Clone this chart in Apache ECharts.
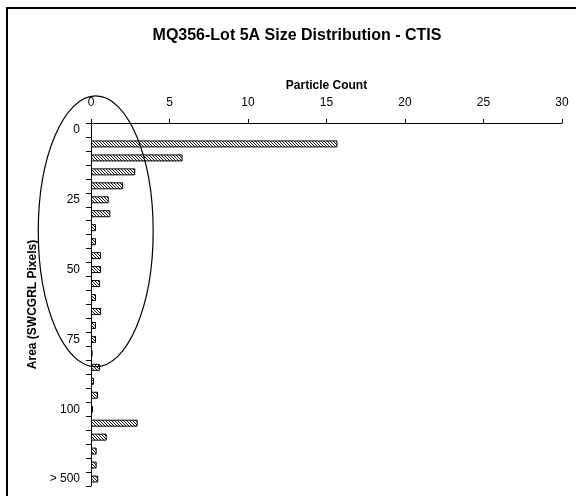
<!DOCTYPE html>
<html>
<head>
<meta charset="utf-8">
<script src="https://cdn.jsdelivr.net/npm/echarts@6/dist/echarts.min.js"></script>
<style>
html, body { margin: 0; padding: 0; background: #fff; }
#main { width: 576px; height: 496px; }
</style>
</head>
<body>
<div id="main"></div>
<script>
// 面积分档 (SWCGRL Pixels)
var areaBins = ['0', '5', '10', '15', '20', '25', '30', '35', '40', '45', '50',
	'55', '60', '65', '70', '75', '80', '85', '90', '95', '100',
	'200', '300', '400', '500', '> 500'];
// 颗粒数
var particleCount = [null, 15.7, 5.83, 2.82, 2.05, 1.13, 1.23, 0.32, 0.32, 0.64, 0.64,
	0.57, 0.32, 0.64, 0.32, 0.32, 0.1, 0.57, 0.19, 0.45, 0.13,
	2.97, 1.0, 0.36, 0.36, 0.46];
var countTicks = [0, 30, 5]; // min, max, interval
// 圈出的区域 (count, bin index, half width, half height)
var circled = [0.3, 7.26, 3.66, 9.7];

var font = 'Arial, "Liberation Sans", sans-serif';

// 斜线填充
var hatch = document.createElement('canvas');
hatch.width = 3;
hatch.height = 3;
var hc = hatch.getContext('2d');
hc.fillStyle = '#fff';
hc.fillRect(0, 0, 3, 3);
hc.strokeStyle = '#1a1a1a';
hc.lineWidth = 1;
hc.beginPath();
hc.moveTo(-1, -1); hc.lineTo(4, 4);
hc.moveTo(-1, 2); hc.lineTo(1, 4);
hc.moveTo(2, -1); hc.lineTo(4, 1);
hc.stroke();

var chart = echarts.init(document.getElementById('main'));
chart.setOption({
	backgroundColor: '#fff',
	animation: false,
	title: {
		text: 'MQ356-Lot 5A Size Distribution - CTIS',
		left: 292,
		top: 23,
		textAlign: 'center',
		textStyle: {
			fontFamily: font,
			fontSize: 16,
			fontWeight: 'bold',
			color: '#000'
		}
	},
	grid: {
		left: 91,
		right: 14,
		top: 123,
		bottom: 10
	},
	xAxis: {
		type: 'value',
		position: 'top',
		min: countTicks[0],
		max: countTicks[1],
		interval: countTicks[2],
		name: 'Particle Count',
		nameLocation: 'middle',
		nameGap: 30,
		nameTextStyle: {
			fontFamily: font,
			fontSize: 12,
			fontWeight: 'bold',
			color: '#000'
		},
		axisLine: {
			show: true,
			lineStyle: { color: '#000', width: 1 }
		},
		axisTick: {
			show: true,
			length: 4,
			lineStyle: { color: '#000' }
		},
		axisLabel: {
			margin: 14,
			fontFamily: font,
			fontSize: 12,
			color: '#000'
		},
		splitLine: { show: false }
	},
	yAxis: {
		type: 'category',
		inverse: true,
		data: areaBins,
		name: 'Area (SWCGRL Pixels)',
		nameLocation: 'middle',
		nameGap: 52,
		nameRotate: 90,
		nameTextStyle: {
			fontFamily: font,
			fontSize: 12,
			fontWeight: 'bold',
			color: '#000'
		},
		axisLine: {
			show: true,
			lineStyle: { color: '#000', width: 1 }
		},
		axisTick: {
			show: true,
			interval: 0,
			length: 5,
			lineStyle: { color: '#000' }
		},
		axisLabel: {
			interval: 4,
			margin: 11,
			fontFamily: font,
			fontSize: 12,
			color: '#000'
		}
	},
	series: [{
		type: 'bar',
		data: particleCount,
		barCategoryGap: '50%',
		itemStyle: {
			color: { image: hatch, repeat: 'repeat' },
			borderColor: '#000',
			borderWidth: 1
		}
	}]
});

// 椭圆标注
var p0 = chart.convertToPixel({ gridIndex: 0 }, [0, 0]);
var p1 = chart.convertToPixel({ gridIndex: 0 }, [10, 10]);
var ux = (p1[0] - p0[0]) / 10;
var uy = (p1[1] - p0[1]) / 10;
chart.setOption({
	graphic: [{
		type: 'rect',
		shape: { x: 7, y: 8, width: 700, height: 700 },
		style: { fill: 'none', stroke: '#000', lineWidth: 2 },
		silent: true
	}, {
		type: 'ellipse',
		shape: {
			cx: p0[0] + circled[0] * ux,
			cy: p0[1] + circled[1] * uy,
			rx: circled[2] * ux,
			ry: circled[3] * uy
		},
		style: { fill: 'none', stroke: '#000', lineWidth: 1.2 },
		silent: true,
		z: 100
	}]
});
</script>
</body>
</html>
